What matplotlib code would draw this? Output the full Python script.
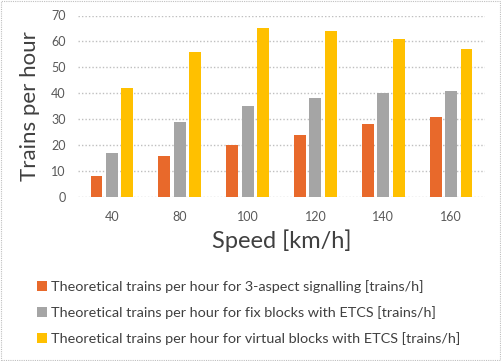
import matplotlib
matplotlib.use("Agg")
import matplotlib.pyplot as plt
import numpy as np
from matplotlib.patches import Rectangle

speeds = ["40", "80", "100", "120", "140", "160"]
aspect3 = [8, 16, 20, 24, 28, 31]
fix_etcs = [17, 29, 35, 38, 40, 41]
virtual_etcs = [42, 56, 65, 64, 61, 57]
series_names = [
    "Theoretical trains per hour for 3-aspect signalling [trains/h]",
    "Theoretical trains per hour for fix blocks with ETCS [trains/h]",
    "Theoretical trains per hour for virtual blocks with ETCS [trains/h]",
]
colors = ["#E8692B", "#A5A5A5", "#FFC000"]

plt.rcParams['font.family'] = ['Lato', 'DejaVu Sans']

W, H = 501, 361
fig = plt.figure(figsize=(W / 100, H / 100), dpi=100)
ax = fig.add_axes([78 / W, 1 - 197 / H, (485 - 78) / W, (197 - 15.5) / H])

x = np.arange(len(speeds))
bw = 0.175
step = 0.228
for i, (vals, c, name) in enumerate(zip([aspect3, fix_etcs, virtual_etcs], colors, series_names)):
    ax.bar(x + (i - 1) * step, vals, width=bw, color=c, label=name, zorder=3)

ax.set_xlim(-0.5, len(speeds) - 0.5)
ax.set_ylim(0, 70)
ax.set_yticks(range(0, 71, 10))
ax.set_xticks(x)
ax.set_xticklabels(speeds)
ax.grid(axis='y', color='#BFBFBF', linestyle=(0, (1, 1.5)), linewidth=1.0, zorder=0)
for s in ax.spines.values():
    s.set_visible(False)
ax.tick_params(axis='both', length=0, colors='#595959', labelsize=9)
ax.tick_params(axis='x', pad=10)
ax.tick_params(axis='y', pad=9)

ax.set_ylabel("Trains per hour", fontsize=16, color='#404040', labelpad=8)
ax.set_xlabel("Speed [km/h]", fontsize=17, color='#404040', labelpad=5)

handles, labels = ax.get_legend_handles_labels()
leg = fig.legend(handles, labels, loc='upper left', bbox_to_anchor=(31 / W, 1 - 274 / H),
                 frameon=False, fontsize=10.4, labelcolor='#404040',
                 handlelength=0.7, handleheight=0.7, handletextpad=0.3,
                 labelspacing=0.9, borderaxespad=0)

fig.patches.append(Rectangle((0.001, 0.002), 0.997, 0.995, transform=fig.transFigure,
                             fill=False, edgecolor='#BFBFBF', linestyle=(0, (1, 1)),
                             linewidth=0.8))

fig.savefig("out.png", dpi=100)
